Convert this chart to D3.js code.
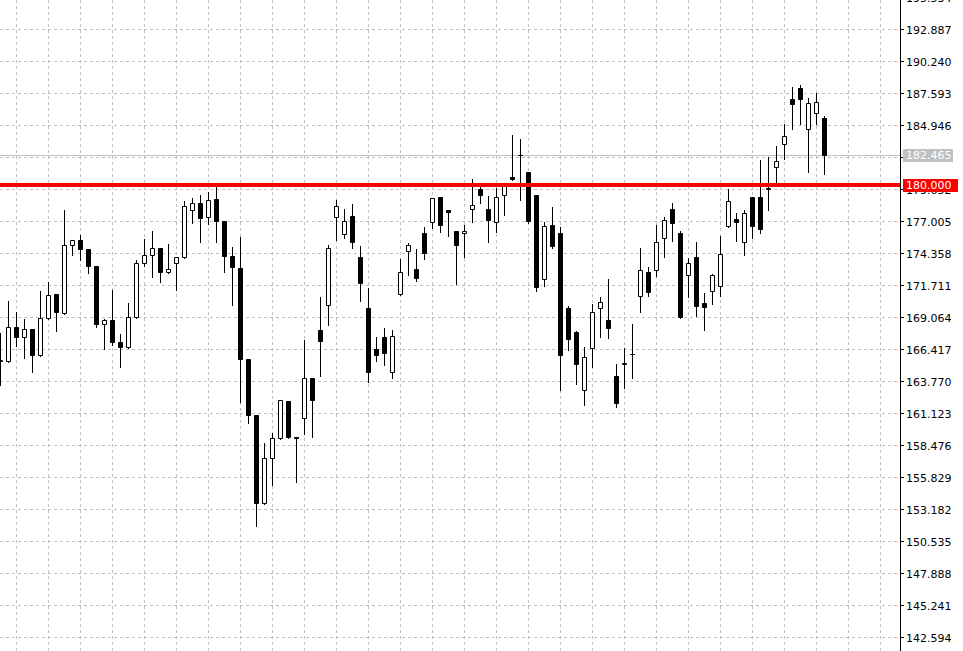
<!DOCTYPE html>
<html><head><meta charset="utf-8">
<script src="https://cdn.jsdelivr.net/npm/d3@7"></script>
<style>html,body{margin:0;padding:0;background:#fff;overflow:hidden}</style>
</head><body>
<svg id="c" width="963" height="651"></svg>
<script>
// Candle data (one entry per bar, left to right)
const openP = [165.45,165.39,168.24,167.38,168.07,165.89,168.98,170.97,169.40,175.02,175.43,174.69,173.28,168.45,168.82,167.00,166.55,169.06,173.53,174.19,174.77,172.78,173.53,174.03,177.91,178.49,177.33,178.82,177.01,174.11,173.14,165.61,160.98,153.64,157.40,159.06,162.14,159.15,160.71,164.02,167.99,170.06,177.33,175.93,177.44,174.03,169.81,166.40,167.41,164.52,170.97,174.52,173.03,176.01,176.89,178.99,177.88,176.16,175.99,178.00,179.68,178.00,176.89,179.12,180.67,182.48,181.08,179.18,172.21,176.68,176.03,169.81,167.82,163.04,166.50,169.81,168.82,164.18,165.20,165.98,170.80,172.78,172.95,175.60,178.00,175.99,172.54,174.06,170.22,171.21,171.59,176.59,177.20,175.27,179.02,179.02,179.68,181.47,183.37,187.07,188.00,184.58,185.93,185.55];
const highP = [167.82,170.41,169.48,168.92,168.10,171.24,171.98,171.00,177.94,175.50,175.85,174.70,173.30,168.98,171.35,167.67,170.25,173.78,175.54,176.20,174.80,175.13,174.05,178.68,178.93,179.18,179.43,179.84,177.05,174.88,175.71,165.65,161.00,158.69,159.47,162.20,162.14,159.17,167.24,164.02,170.73,175.02,178.77,178.00,178.44,174.98,171.53,167.41,168.16,167.99,173.88,175.21,174.69,176.51,178.92,179.00,177.94,176.17,176.74,180.48,180.09,179.15,179.74,180.05,184.14,183.81,181.10,179.20,176.95,178.19,176.59,170.00,167.91,166.60,170.17,170.73,172.23,165.20,166.58,168.51,174.85,173.28,176.70,177.36,178.52,176.25,173.95,175.27,171.09,172.70,175.79,179.67,177.67,177.94,179.05,182.08,182.37,183.21,185.08,188.14,188.28,187.21,187.62,185.74];
const lowP = [163.46,165.35,166.71,165.72,164.56,165.85,168.95,167.96,169.38,174.24,173.83,172.75,168.29,166.47,166.79,165.00,166.52,169.03,173.30,172.42,172.01,172.75,171.35,174.00,176.89,175.32,176.81,175.32,172.84,170.11,162.08,160.35,151.83,153.60,155.22,159.05,159.11,155.47,159.42,159.20,164.23,168.43,175.46,175.60,174.83,170.44,163.72,165.47,165.16,164.07,170.95,172.58,172.10,173.91,176.45,176.15,175.79,171.87,174.08,176.97,178.54,175.32,176.16,177.52,180.45,178.77,176.86,171.26,171.68,174.78,163.05,166.38,163.57,161.83,164.95,167.46,167.37,161.67,163.22,164.04,169.53,170.84,172.50,174.08,175.37,169.03,170.74,169.19,168.07,170.14,170.83,176.51,175.40,174.24,175.62,176.06,177.94,180.28,182.18,184.67,185.08,181.13,185.08,180.94];
const closeP = [165.47,168.24,167.38,168.07,165.89,168.98,170.88,169.45,175.02,175.43,174.66,173.28,168.45,168.82,166.96,166.55,169.06,173.53,174.19,174.77,172.75,173.03,174.03,178.25,178.49,177.22,178.74,176.97,174.08,173.17,165.56,160.92,153.64,157.40,159.06,162.20,159.11,159.09,164.02,162.17,167.05,174.77,178.25,177.01,175.24,171.85,164.48,165.89,166.05,167.49,172.78,175.02,172.33,174.32,178.91,176.64,177.75,175.06,176.16,178.33,179.12,177.06,178.97,180.03,180.46,182.50,176.97,171.51,176.59,174.91,165.89,167.21,165.16,165.75,169.48,170.30,168.15,161.95,165.24,166.02,172.95,171.13,175.27,177.09,176.84,169.09,173.53,169.94,169.86,172.54,174.30,178.66,176.89,177.67,176.58,176.37,179.71,181.97,184.03,186.65,187.07,186.79,186.85,182.465];
const tickLabels = ["142.594","145.241","147.888","150.535","153.182","155.829","158.476","161.123","163.770","166.417","169.064","171.711","174.358","177.005","179.652","182.299","184.946","187.593","190.240","192.887","195.534"];
const bidPrice = 182.465;
const levelPrice = 180.000;

const W = 963, H = 651, axisX = 900;
const svg = d3.select("#c");
const y = d3.scaleLinear().domain([177.005, 142.594]).range([221.5, 637.5]);
const n = openP.length;
const x = d3.scaleLinear().domain([0, n - 1]).range([0.5, 0.5 + 8 * (n - 1)]);
const ticks = tickLabels.map(Number);

// grid
const g = svg.append("g");
g.selectAll("line.h").data(ticks).join("line")
  .attr("x1", 0).attr("x2", axisX)
  .attr("y1", d => Math.round(y(d) - 0.5) + 0.5).attr("y2", d => Math.round(y(d) - 0.5) + 0.5)
  .attr("stroke", "#c0c0c0").attr("stroke-dasharray", "3,3");
const vIdx = d3.range(2, 200, 4).filter(i => x(i) < axisX);
g.selectAll("line.v").data(vIdx).join("line")
  .attr("x1", d => x(d)).attr("x2", d => x(d))
  .attr("y1", 0).attr("y2", H)
  .attr("stroke", "#c0c0c0").attr("stroke-dasharray", "3,3");

// bid line
const by = Math.round(y(bidPrice) - 0.5) + 0.5;
svg.append("line").attr("x1", 0).attr("x2", axisX).attr("y1", by).attr("y2", by)
  .attr("stroke", "#c0c0c0").attr("stroke-width", 1);

// candles
const data = d3.range(n).map(i => ({i, o: openP[i], h: highP[i], l: lowP[i], c: closeP[i]}));
const cg = svg.append("g");
cg.selectAll("line.w").data(data).join("line")
  .attr("x1", d => x(d.i)).attr("x2", d => x(d.i))
  .attr("y1", d => Math.round(y(d.h))).attr("y2", d => Math.round(y(d.l)) + 1)
  .attr("stroke", "#000").attr("stroke-width", 1);
cg.selectAll("path.b").data(data).join("path")
  .attr("d", d => {
    const cx = x(d.i);
    const t = Math.round(y(Math.max(d.o, d.c)) - 0.5) + 0.5;
    const b = Math.round(y(Math.min(d.o, d.c)) - 0.5) + 0.5;
    return `M${cx-2},${t}H${cx+2}V${b}H${cx-2}Z`;
  })
  .attr("fill", d => d.c >= d.o ? "#fff" : "#000")
  .attr("stroke", "#000").attr("stroke-width", 1);

// level line
const ly = Math.round(y(levelPrice));
svg.append("line").attr("x1", 0).attr("x2", axisX).attr("y1", ly).attr("y2", ly)
  .attr("stroke", "#ff0000").attr("stroke-width", 4);

// axis
svg.append("line").attr("x1", axisX + 0.5).attr("x2", axisX + 0.5).attr("y1", 0).attr("y2", H)
  .attr("stroke", "#000");
const ag = svg.append("g");
ag.selectAll("line").data(ticks).join("line")
  .attr("x1", axisX).attr("x2", axisX + 4)
  .attr("y1", d => Math.round(y(d) - 0.5) + 0.5).attr("y2", d => Math.round(y(d) - 0.5) + 0.5)
  .attr("stroke", "#000");
ag.selectAll("text").data(tickLabels).join("text")
  .attr("x", axisX + 6).attr("y", d => y(+d) + 4)
  .attr("font-family", "DejaVu Sans, Verdana, sans-serif").attr("font-size", 11)
  .attr("fill", "#000").text(d => d);

// price boxes
function box(price, label, fill, w) {
  const cy = y(price);
  svg.append("rect").attr("x", axisX + 3).attr("y", Math.round(cy) - 6).attr("width", w).attr("height", 13)
    .attr("fill", fill);
  svg.append("text").attr("x", axisX + 6).attr("y", cy + 4)
    .attr("font-family", "DejaVu Sans, Verdana, sans-serif").attr("font-size", 11)
    .attr("fill", "#fff").text(label);
}
box(bidPrice, bidPrice.toFixed(3), "#c0c0c0", 50);
box(levelPrice, levelPrice.toFixed(3), "#ff0000", 55);
</script>
</body></html>
